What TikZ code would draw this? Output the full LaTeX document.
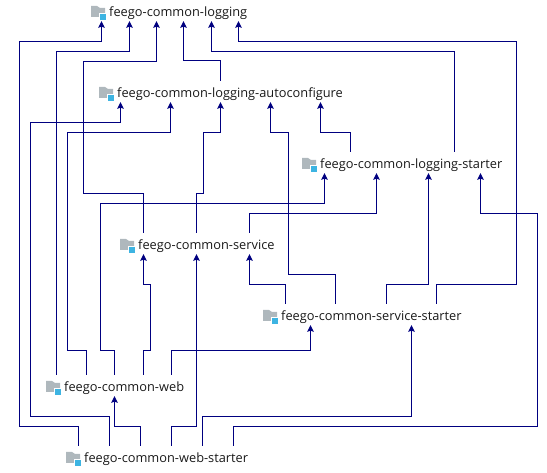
\documentclass[tikz,border=0pt]{standalone}
\usepackage{fontspec}
\setmainfont{Open Sans}
\usepackage{xcolor}
\usepackage{tikz}
\usetikzlibrary{arrows.meta, positioning}

\definecolor{depblue}{HTML}{000080}
\definecolor{foldergrey}{HTML}{AFB8BD}
\definecolor{foldercyan}{HTML}{3DB4E2}

\begin{document}
\begin{tikzpicture}[
    x=1pt, y=-1pt,
    modbox/.style={anchor=base west, inner sep=0pt, text height=17pt, text depth=4pt, font=\fontsize{12.8}{15}\selectfont, text=black!90},
    dep/.style={-{Stealth[length=6.5pt, width=6.5pt, inset=1pt]}, line width=1pt, depblue},
    folder/.pic={
        \fill[foldergrey] (-18,-11) -- (-12,-11) -- (-9,-9) -- (-4,-9) -- (-4,0) -- (-18,0) -- cycle;
        \fill[white] (-10,-4) rectangle (-2.5,4);
        \fill[foldercyan] (-9,-3) rectangle (-3,3);
    }
]

\useasboundingbox (0,0) rectangle (547,473);

\node[modbox] (logging) at (109,17) {feego-common-logging};
\node[modbox] (autoconf) at (117,98) {feego-common-logging-autoconfigure};
\node[modbox] (logstarter) at (320,169) {feego-common-logging-starter};
\node[modbox] (service) at (138,250) {feego-common-service};
\node[modbox] (svcstarter) at (281,321) {feego-common-service-starter};
\node[modbox] (web) at (64,392) {feego-common-web};
\node[modbox] (webstarter) at (84,463) {feego-common-web-starter};

\foreach \m in {logging, autoconf, logstarter, service, svcstarter, web, webstarter}
    \pic at (\m.base west) {folder};

% into logging
\draw[dep] ([xshift=-5.5pt]webstarter.north west) -- ++(0,-19.5) -| (19.5,41.5) -| ([xshift=-7.5pt]logging.south west);
\draw[dep] ([xshift=-7.5pt]web.north west) -- ++(0,-323.5) -| ([xshift=20.5pt]logging.south west);
\draw[dep] ([xshift=5.5pt]service.north west) -- ++(0,-39.5) -| (83,61.5) -| ([xshift=47.5pt]logging.south west);
\draw[dep] ([xshift=103.5pt]autoconf.north west) -- ++(0,-20.5) -| ([xshift=74.5pt]logging.south west);
\draw[dep] ([xshift=134.5pt]logstarter.north west) -- ++(0,-100.5) -| ([xshift=102.5pt]logging.south west);
\draw[dep] ([xshift=155.5pt]svcstarter.north west) -- ++(0,-19.5) -| (516.5,41.5) -| ([xshift=129.5pt]logging.south west);

% into autoconfigure
\draw[dep] ([xshift=25.5pt]webstarter.north west) -- ++(0,-29.5) -| (30.5,122.5) -| ([xshift=3.5pt]autoconf.south west);
\draw[dep] ([xshift=22.5pt]web.north west) -- ++(0,-24.5) -| (67.5,132.5) -| ([xshift=53.5pt]autoconf.south west);
\draw[dep] ([xshift=58.5pt]service.north west) -- ++(0,-39.5) -| (203.5,132.5) -| ([xshift=103.5pt]autoconf.south west);
\draw[dep] ([xshift=54.5pt]svcstarter.north west) -- ++(0,-29.5) -| (288.5,132.5) -| ([xshift=153.5pt]autoconf.south west);
\draw[dep] ([xshift=30.5pt]logstarter.north west) -- ++(0,-19.5) -| ([xshift=203.5pt]autoconf.south west);

% into logging-starter
\draw[dep] ([xshift=50.5pt]web.north west) -- ++(0,-24.5) -| (100.5,203.5) -| ([xshift=4.5pt]logstarter.south west);
\draw[dep] ([xshift=111.5pt]service.north west) -- ++(0,-19.5) -| ([xshift=56.5pt]logstarter.south west);
\draw[dep] ([xshift=105.5pt]svcstarter.north west) -- ++(0,-19.5) -| ([xshift=108.5pt]logstarter.south west);
\draw[dep] ([xshift=149.5pt]webstarter.north west) -- ++(0,-19.5) -| (537.5,213.5) -| ([xshift=160.5pt]logstarter.south west);

% into service
\draw[dep] ([xshift=79.5pt]web.north west) -- ++(0,-24.5) -| (150.5,284.5) -| ([xshift=5.5pt]service.south west);
\draw[dep] ([xshift=87.5pt]webstarter.north west) -- ++(0,-19.5) -| ([xshift=58.5pt]service.south west);
\draw[dep] ([xshift=4.5pt]svcstarter.north west) -- ++(0,-19.5) -| ([xshift=111.5pt]service.south west);

% into service-starter
\draw[dep] ([xshift=107.5pt]web.north west) -- ++(0,-24.5) -| ([xshift=29.5pt]svcstarter.south west);
\draw[dep] ([xshift=118.5pt]webstarter.north west) -- ++(0,-29.5) -| ([xshift=130.5pt]svcstarter.south west);

% into web
\draw[dep] ([xshift=56.5pt]webstarter.north west) -- ++(0,-19.5) -| ([xshift=50.5pt]web.south west);

\end{tikzpicture}
\end{document}
